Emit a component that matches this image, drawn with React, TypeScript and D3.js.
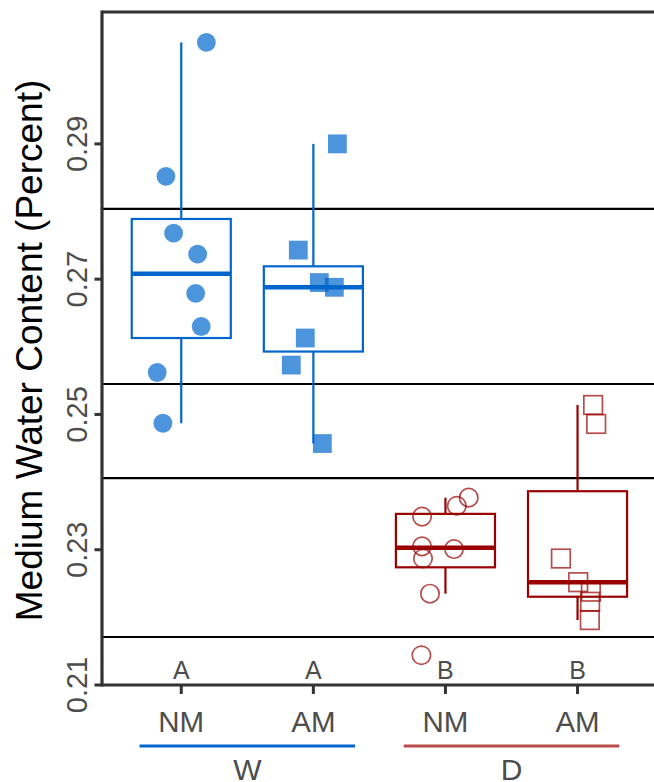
import React from "react";
import * as d3 from "d3";

// ---------- data ----------
const groupNames = ["W", "D"];
const treatments = ["NM", "AM", "NM", "AM"];
const categoryKeys = ["W-NM", "W-AM", "D-NM", "D-AM"];
const letters = ["A", "A", "B", "B"];
const yTicks = [0.21, 0.23, 0.25, 0.27, 0.29];
const refLines = [0.2804, 0.2545, 0.2406, 0.2171];

const wNM = [0.305, 0.2852, 0.2768, 0.2737, 0.2679, 0.263, 0.2562, 0.2487];
const wNMJitter = [0.19, -0.116, -0.058, 0.124, 0.109, 0.151, -0.182, -0.139];
const wAM = [0.29, 0.2743, 0.2695, 0.2688, 0.2613, 0.2573, 0.2457];
const wAMJitter = [0.182, -0.114, 0.045, 0.159, -0.061, -0.167, 0.068];
const dNM = [0.2377, 0.2365, 0.2349, 0.2305, 0.2301, 0.2287, 0.2235, 0.2144];
const dNMJitter = [0.176, 0.086, -0.177, -0.177, 0.065, -0.17, -0.117, -0.182];
const dAM = [0.2514, 0.2486, 0.2287, 0.2252, 0.2238, 0.2223, 0.2196];
const dAMJitter = [0.118, 0.141, -0.126, 0.005, 0.101, 0.095, 0.093];

const seriesValues = [wNM, wAM, dNM, dAM];
const seriesJitter = [wNMJitter, wAMJitter, dNMJitter, dAMJitter];

const BLUE = "#0066CC";
const RED = "#990000";
const RED_LIGHT = "#B84C4C";
const seriesColor = [BLUE, BLUE, RED, RED];
const seriesShape = ["circle", "square", "openCircle", "openSquare"];

const W = 654;
const H = 782;
const panelLeft = 102;
const panelRight = 656.8;
const panelTop = 12;
const panelBottom = 685;
const FONT = "'Liberation Sans', Arial, Helvetica, sans-serif";
const TXT = "#4D4D4D";
const AXIS = "#333333";

function boxStats(vals: number[]) {
  const s = [...vals].sort((a, b) => a - b);
  const q1 = d3.quantile(s, 0.25)!;
  const med = d3.quantile(s, 0.5)!;
  const q3 = d3.quantile(s, 0.75)!;
  const iqr = q3 - q1;
  const lo = d3.min(s.filter((v) => v >= q1 - 1.5 * iqr))!;
  const hi = d3.max(s.filter((v) => v <= q3 + 1.5 * iqr))!;
  return { q1, med, q3, lo, hi };
}

export default function App() {
  const x = d3
    .scalePoint<string>()
    .domain(categoryKeys)
    .range([panelLeft, panelRight])
    .padding(0.6);
  const step = x.step();
  const y = d3.scaleLinear().domain([0.21, 0.3095]).range([panelBottom, panelTop]);
  const boxW = 0.75 * step;

  return (
    <svg
      width={W}
      height={H}
      style={{ position: "absolute", left: 0, top: 0, background: "#fff" }}
      fontFamily={FONT}
    >
      <defs>
        <clipPath id="panel">
          <rect x={panelLeft} y={panelTop} width={panelRight - panelLeft} height={panelBottom - panelTop} />
        </clipPath>
      </defs>
      <g clipPath="url(#panel)">
        {refLines.map((v, i) => (
          <line key={"r" + i} x1={panelLeft} x2={panelRight} y1={y(v)} y2={y(v)} stroke="#000" strokeWidth={2.2} />
        ))}
        {categoryKeys.map((k, i) => {
          const st = boxStats(seriesValues[i]);
          const cx = x(k)!;
          const col = seriesColor[i];
          return (
            <g key={"b" + k}>
              <line x1={cx} x2={cx} y1={y(st.hi)} y2={y(st.q3)} stroke={col} strokeWidth={2.2} />
              <line x1={cx} x2={cx} y1={y(st.q1)} y2={y(st.lo)} stroke={col} strokeWidth={2.2} />
              <rect
                x={cx - boxW / 2}
                y={y(st.q3)}
                width={boxW}
                height={y(st.q1) - y(st.q3)}
                fill="#fff"
                stroke={col}
                strokeWidth={2.2}
              />
              <line x1={cx - boxW / 2} x2={cx + boxW / 2} y1={y(st.med)} y2={y(st.med)} stroke={col} strokeWidth={4.4} />
            </g>
          );
        })}
        {categoryKeys.map((k, i) => {
          const cx = x(k)!;
          const col = seriesColor[i];
          const shape = seriesShape[i];
          return seriesValues[i].map((v, j) => {
            const px = cx + seriesJitter[i][j] * step;
            const py = y(v);
            if (shape === "circle")
              return <circle key={k + j} cx={px} cy={py} r={9.4} fill={col} fillOpacity={0.7} />;
            if (shape === "square")
              return <rect key={k + j} x={px - 9.4} y={py - 9.4} width={18.8} height={18.8} fill={col} fillOpacity={0.7} />;
            if (shape === "openCircle")
              return <circle key={k + j} cx={px} cy={py} r={9.2} fill="none" stroke={col} strokeOpacity={0.7} strokeWidth={1.7} />;
            return (
              <rect
                key={k + j}
                x={px - 9.3}
                y={py - 9.3}
                width={18.6}
                height={18.6}
                fill="none"
                stroke={col}
                strokeOpacity={0.7}
                strokeWidth={1.7}
              />
            );
          });
        })}
        {categoryKeys.map((k, i) => (
          <text key={"l" + k} x={x(k)!} y={679} textAnchor="middle" fontSize={25} fill={TXT}>
            {letters[i]}
          </text>
        ))}
      </g>
      {/* panel border: top, left, bottom */}
      <line x1={panelLeft} x2={W + 5} y1={panelTop} y2={panelTop} stroke={AXIS} strokeWidth={3.2} />
      <line x1={panelLeft} x2={panelLeft} y1={panelTop - 1.6} y2={panelBottom + 1.6} stroke={AXIS} strokeWidth={3.2} />
      <line x1={panelLeft} x2={W + 5} y1={panelBottom} y2={panelBottom} stroke={AXIS} strokeWidth={3.2} />
      {/* y axis */}
      {yTicks.map((t) => (
        <g key={"yt" + t}>
          <line x1={94.5} x2={panelLeft} y1={y(t)} y2={y(t)} stroke={AXIS} strokeWidth={3} />
          <text
            transform={`translate(87,${y(t)}) rotate(-90)`}
            textAnchor="middle"
            fontSize={29}
            fill={TXT}
          >
            {t.toFixed(2)}
          </text>
        </g>
      ))}
      <text transform={`translate(41.5,350.5) rotate(-90)`} textAnchor="middle" fontSize={37} fill="#000">
        Medium Water Content (Percent)
      </text>
      {/* x axis */}
      {categoryKeys.map((k, i) => (
        <g key={"xt" + k}>
          <line x1={x(k)!} x2={x(k)!} y1={panelBottom} y2={694} stroke={AXIS} strokeWidth={3} />
          <text x={x(k)!} y={732} textAnchor="middle" fontSize={29.5} fill={TXT}>
            {treatments[i]}
          </text>
        </g>
      ))}
      {groupNames.map((g, gi) => {
        const a = x(categoryKeys[gi * 2])!;
        const b = x(categoryKeys[gi * 2 + 1])!;
        return (
          <g key={"g" + g}>
            <line
              x1={a - 0.316 * step}
              x2={b + 0.316 * step}
              y1={746}
              y2={746}
              stroke={gi === 0 ? BLUE : RED_LIGHT}
              strokeWidth={3}
            />
            <text x={(a + b) / 2} y={780} textAnchor="middle" fontSize={30} fill={TXT}>
              {g}
            </text>
          </g>
        );
      })}
    </svg>
  );
}
